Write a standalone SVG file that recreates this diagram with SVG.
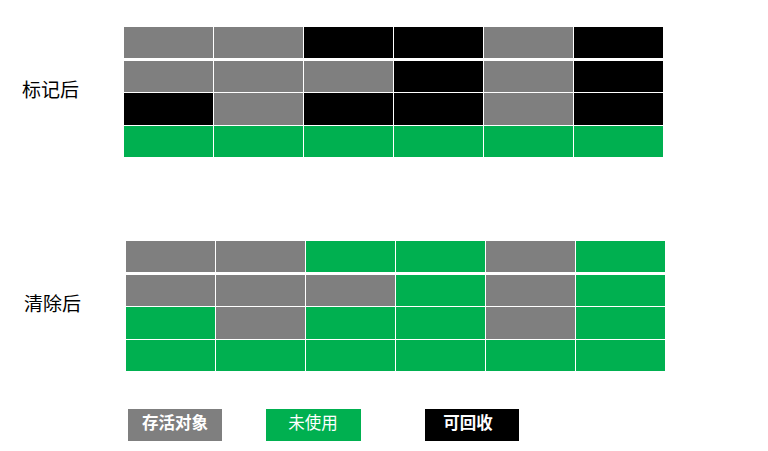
<svg xmlns="http://www.w3.org/2000/svg" width="768" height="451" viewBox="0 0 768 451">
<style>
.g{fill:#7f7f7f}.k{fill:#000}.n{fill:#00b050}
.lbl{font-family:"Liberation Sans","Noto Sans CJK SC",sans-serif;font-size:19px;fill:#000}
.lg{font-family:"Liberation Sans","Noto Sans CJK SC",sans-serif;font-size:16.5px;font-weight:bold;fill:#fff;text-anchor:middle}
</style>
<rect width="768" height="451" fill="#fff"/>
<g id="label-marked"><text class="lbl" x="22" y="97">标记后</text></g>
<g id="grid-marked">
<rect class="g" x="124" y="27" width="89" height="31"/><rect class="g" x="214" y="27" width="89" height="31"/><rect class="k" x="304" y="27" width="89" height="31"/><rect class="k" x="394" y="27" width="89" height="31"/><rect class="g" x="484" y="27" width="89" height="31"/><rect class="k" x="574" y="27" width="89" height="31"/>
<rect class="g" x="124" y="61" width="89" height="31"/><rect class="g" x="214" y="61" width="89" height="31"/><rect class="g" x="304" y="61" width="89" height="31"/><rect class="k" x="394" y="61" width="89" height="31"/><rect class="g" x="484" y="61" width="89" height="31"/><rect class="k" x="574" y="61" width="89" height="31"/>
<rect class="k" x="124" y="93" width="89" height="32"/><rect class="g" x="214" y="93" width="89" height="32"/><rect class="k" x="304" y="93" width="89" height="32"/><rect class="k" x="394" y="93" width="89" height="32"/><rect class="g" x="484" y="93" width="89" height="32"/><rect class="k" x="574" y="93" width="89" height="32"/>
<rect class="n" x="124" y="126" width="89" height="31"/><rect class="n" x="214" y="126" width="89" height="31"/><rect class="n" x="304" y="126" width="89" height="31"/><rect class="n" x="394" y="126" width="89" height="31"/><rect class="n" x="484" y="126" width="89" height="31"/><rect class="n" x="574" y="126" width="89" height="31"/>
</g>
<g id="label-swept"><text class="lbl" x="24" y="311">清除后</text></g>
<g id="grid-swept">
<rect class="g" x="126" y="241" width="89" height="31"/><rect class="g" x="216" y="241" width="89" height="31"/><rect class="n" x="306" y="241" width="89" height="31"/><rect class="n" x="396" y="241" width="89" height="31"/><rect class="g" x="486" y="241" width="89" height="31"/><rect class="n" x="576" y="241" width="89" height="31"/>
<rect class="g" x="126" y="275" width="89" height="31"/><rect class="g" x="216" y="275" width="89" height="31"/><rect class="g" x="306" y="275" width="89" height="31"/><rect class="n" x="396" y="275" width="89" height="31"/><rect class="g" x="486" y="275" width="89" height="31"/><rect class="n" x="576" y="275" width="89" height="31"/>
<rect class="n" x="126" y="307" width="89" height="32"/><rect class="g" x="216" y="307" width="89" height="32"/><rect class="n" x="306" y="307" width="89" height="32"/><rect class="n" x="396" y="307" width="89" height="32"/><rect class="g" x="486" y="307" width="89" height="32"/><rect class="n" x="576" y="307" width="89" height="32"/>
<rect class="n" x="126" y="340" width="89" height="31"/><rect class="n" x="216" y="340" width="89" height="31"/><rect class="n" x="306" y="340" width="89" height="31"/><rect class="n" x="396" y="340" width="89" height="31"/><rect class="n" x="486" y="340" width="89" height="31"/><rect class="n" x="576" y="340" width="89" height="31"/>
</g>
<g id="legend-live"><rect class="g" x="128" y="409" width="94" height="32"/><text class="lg" x="175" y="429">存活对象</text></g>
<g id="legend-free"><rect class="n" x="266" y="409" width="95" height="32"/><text class="lg" x="313" y="429" style="font-weight:normal">未使用</text></g>
<g id="legend-garbage"><rect class="k" x="425" y="409" width="94" height="32"/><text class="lg" x="468" y="429">可回收</text></g>
</svg>
